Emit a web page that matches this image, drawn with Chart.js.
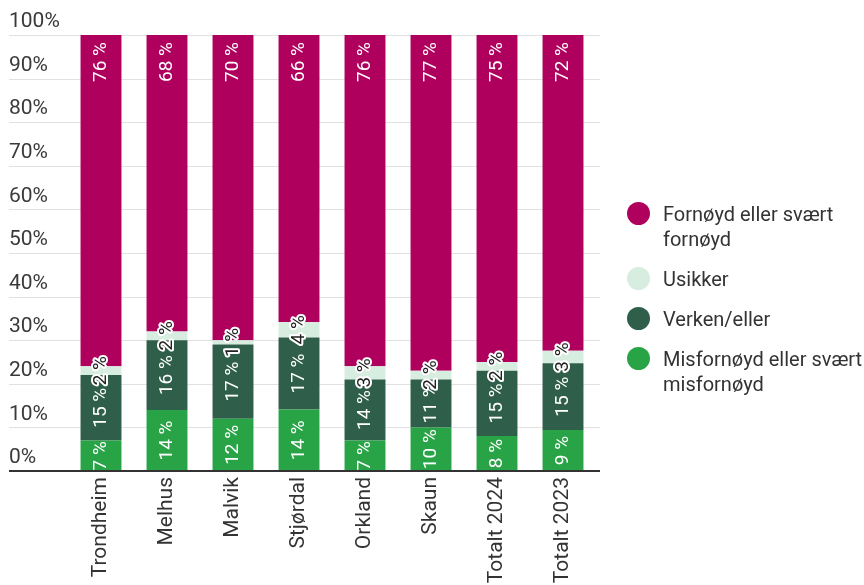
<!DOCTYPE html>
<html>
<head>
<meta charset="utf-8">
<script src="https://cdn.jsdelivr.net/npm/chart.js@4.4.0/dist/chart.umd.min.js"></script>
<style>
html, body { margin: 0; padding: 0; background: #fff; }
#wrap { position: relative; width: 864px; height: 585px; }
#leyenda { position: absolute; left: 627px; top: 202px; font-family: Roboto; font-size: 20px; color: #333; }
.item { display: flex; align-items: flex-start; margin-bottom: 15px; line-height: 25px; }
.punto { width: 23px; height: 23px; border-radius: 50%; margin-top: 0px; margin-right: 13px; flex: none; }
.item span { white-space: pre-line; }
</style>
</head>
<body>
<div id="wrap">
  <canvas id="grafico" width="864" height="585"></canvas>
  <div id="leyenda"></div>
</div>
<script>
const kommuner = ['Trondheim', 'Melhus', 'Malvik', 'Stjørdal', 'Orkland', 'Skaun', 'Totalt 2024', 'Totalt 2023']

// andel i prosent, nederst -> øverst i stabelen
const misfornoyd = [7, 14, 12, 14.1, 7, 10, 8, 9.4]
const verken     = [15, 16, 17, 16.5, 14, 11, 15, 15.3]
const usikker    = [2, 2, 1, 3.6, 3, 2, 2, 2.9]
const fornoyd    = [76, 68, 70, 65.8, 76, 77, 75, 72.4]

const serier = ['Misfornøyd eller svært\nmisfornøyd', 'Verken/eller', 'Usikker', 'Fornøyd eller svært\nfornøyd']
const farger = ['#28a447', '#2f5e4b', '#d6ede0', '#b0005e']
const verdier = [misfornoyd, verken, usikker, fornoyd]

/*********************************************
*   linjer og etiketter
**********************************************/
const hjelpelinjer = {
    id: 'hjelpelinjer',
    beforeDatasetsDraw(chart) {
        const ctx = chart.ctx
        const y = chart.scales.y
        const a = chart.chartArea
        ctx.save()
        ctx.strokeStyle = '#e1e1e1'
        ctx.lineWidth = 1
        y.ticks.forEach(t => {
            if (t.value === 0) return
            const py = Math.round(y.getPixelForValue(t.value)) + 0.5
            ctx.beginPath()
            ctx.moveTo(a.left - 59, py)
            ctx.lineTo(a.right + 4, py)
            ctx.stroke()
        })
        ctx.restore()
    },
    afterDatasetsDraw(chart) {
        const ctx = chart.ctx
        const y = chart.scales.y
        const a = chart.chartArea
        ctx.save()
        // nullinje
        const p0 = Math.round(y.getPixelForValue(0))
        ctx.strokeStyle = '#333'
        ctx.lineWidth = 2
        ctx.beginPath()
        ctx.moveTo(a.left - 59, p0)
        ctx.lineTo(a.right + 4, p0)
        ctx.stroke()

        // verdietiketter, de lyse til slutt
        ctx.font = '19px Roboto'
        ctx.textBaseline = 'middle'
        const rekke = [0, 1, 3, 2]
        rekke.forEach(i => {
            const meta = chart.getDatasetMeta(i)
            meta.data.forEach((bar, j) => {
                const v = chart.data.datasets[i].data[j]
                const p = bar.getProps(['x', 'y', 'base'], true)
                const txt = Math.round(v) + ' %'
                ctx.save()
                if (i === 3) {
                    // øverste del: etiketten står like under toppen
                    ctx.translate(p.x, p.y + 7)
                    ctx.textAlign = 'right'
                } else {
                    ctx.translate(p.x, (p.y + p.base) / 2)
                    ctx.textAlign = 'center'
                }
                ctx.rotate(-Math.PI / 2)
                if (i === 2) {
                    ctx.lineJoin = 'round'
                    ctx.lineWidth = 4
                    ctx.strokeStyle = '#fff'
                    ctx.strokeText(txt, 0, 0)
                    ctx.fillStyle = '#222'
                } else {
                    ctx.fillStyle = '#fff'
                }
                ctx.fillText(txt, 0, 0)
                ctx.restore()
            })
        })
        ctx.restore()
    }
}

grafikk('grafico')
leyenda('leyenda')

function grafikk(id) {
    const ctx = document.getElementById(id).getContext('2d')

    const data = {
        labels: kommuner,
        datasets: verdier.map((d, i) => ({
            label: serier[i],
            data: d,
            backgroundColor: farger[i],
            borderWidth: 0,
            categoryPercentage: 1,
            barPercentage: 0.62
        }))
    }

    const options = {
        responsive: false,
        animation: false,
        layout: { padding: { left: 9, right: 268, top: 35, bottom: 0 } },
        scales: {
            x: {
                stacked: true,
                grid: { display: false },
                border: { display: false },
                ticks: {
                    autoSkip: false, minRotation: 90, maxRotation: 90, padding: -2,
                    color: '#333', font: { family: 'Roboto', size: 21 }
                },
                afterFit(s) { s.height = 114 }
            },
            y: {
                stacked: true,
                min: 0, max: 100,
                grid: { display: false },
                border: { display: false },
                ticks: {
                    stepSize: 10, crossAlign: 'far', labelOffset: -13, padding: 0,
                    color: '#3a3a3a', font: { family: 'Roboto', size: 21 },
                    callback: v => v + '%'
                },
                afterFit(s) { s.width = 59 }
            }
        },
        plugins: {
            legend: { display: false },
            tooltip: { enabled: false }
        }
    }

    new Chart(ctx, { type: 'bar', data, options, plugins: [hjelpelinjer] })
}

function leyenda(id) {
    const el = document.getElementById(id)
    for (let i = serier.length - 1; i >= 0; i--) {
        const item = document.createElement('div')
        item.className = 'item'
        item.innerHTML = '<div class="punto" style="background:' + farger[i] + '"></div><span>' + serier[i] + '</span>'
        el.appendChild(item)
    }
}
</script>
</body>
</html>
